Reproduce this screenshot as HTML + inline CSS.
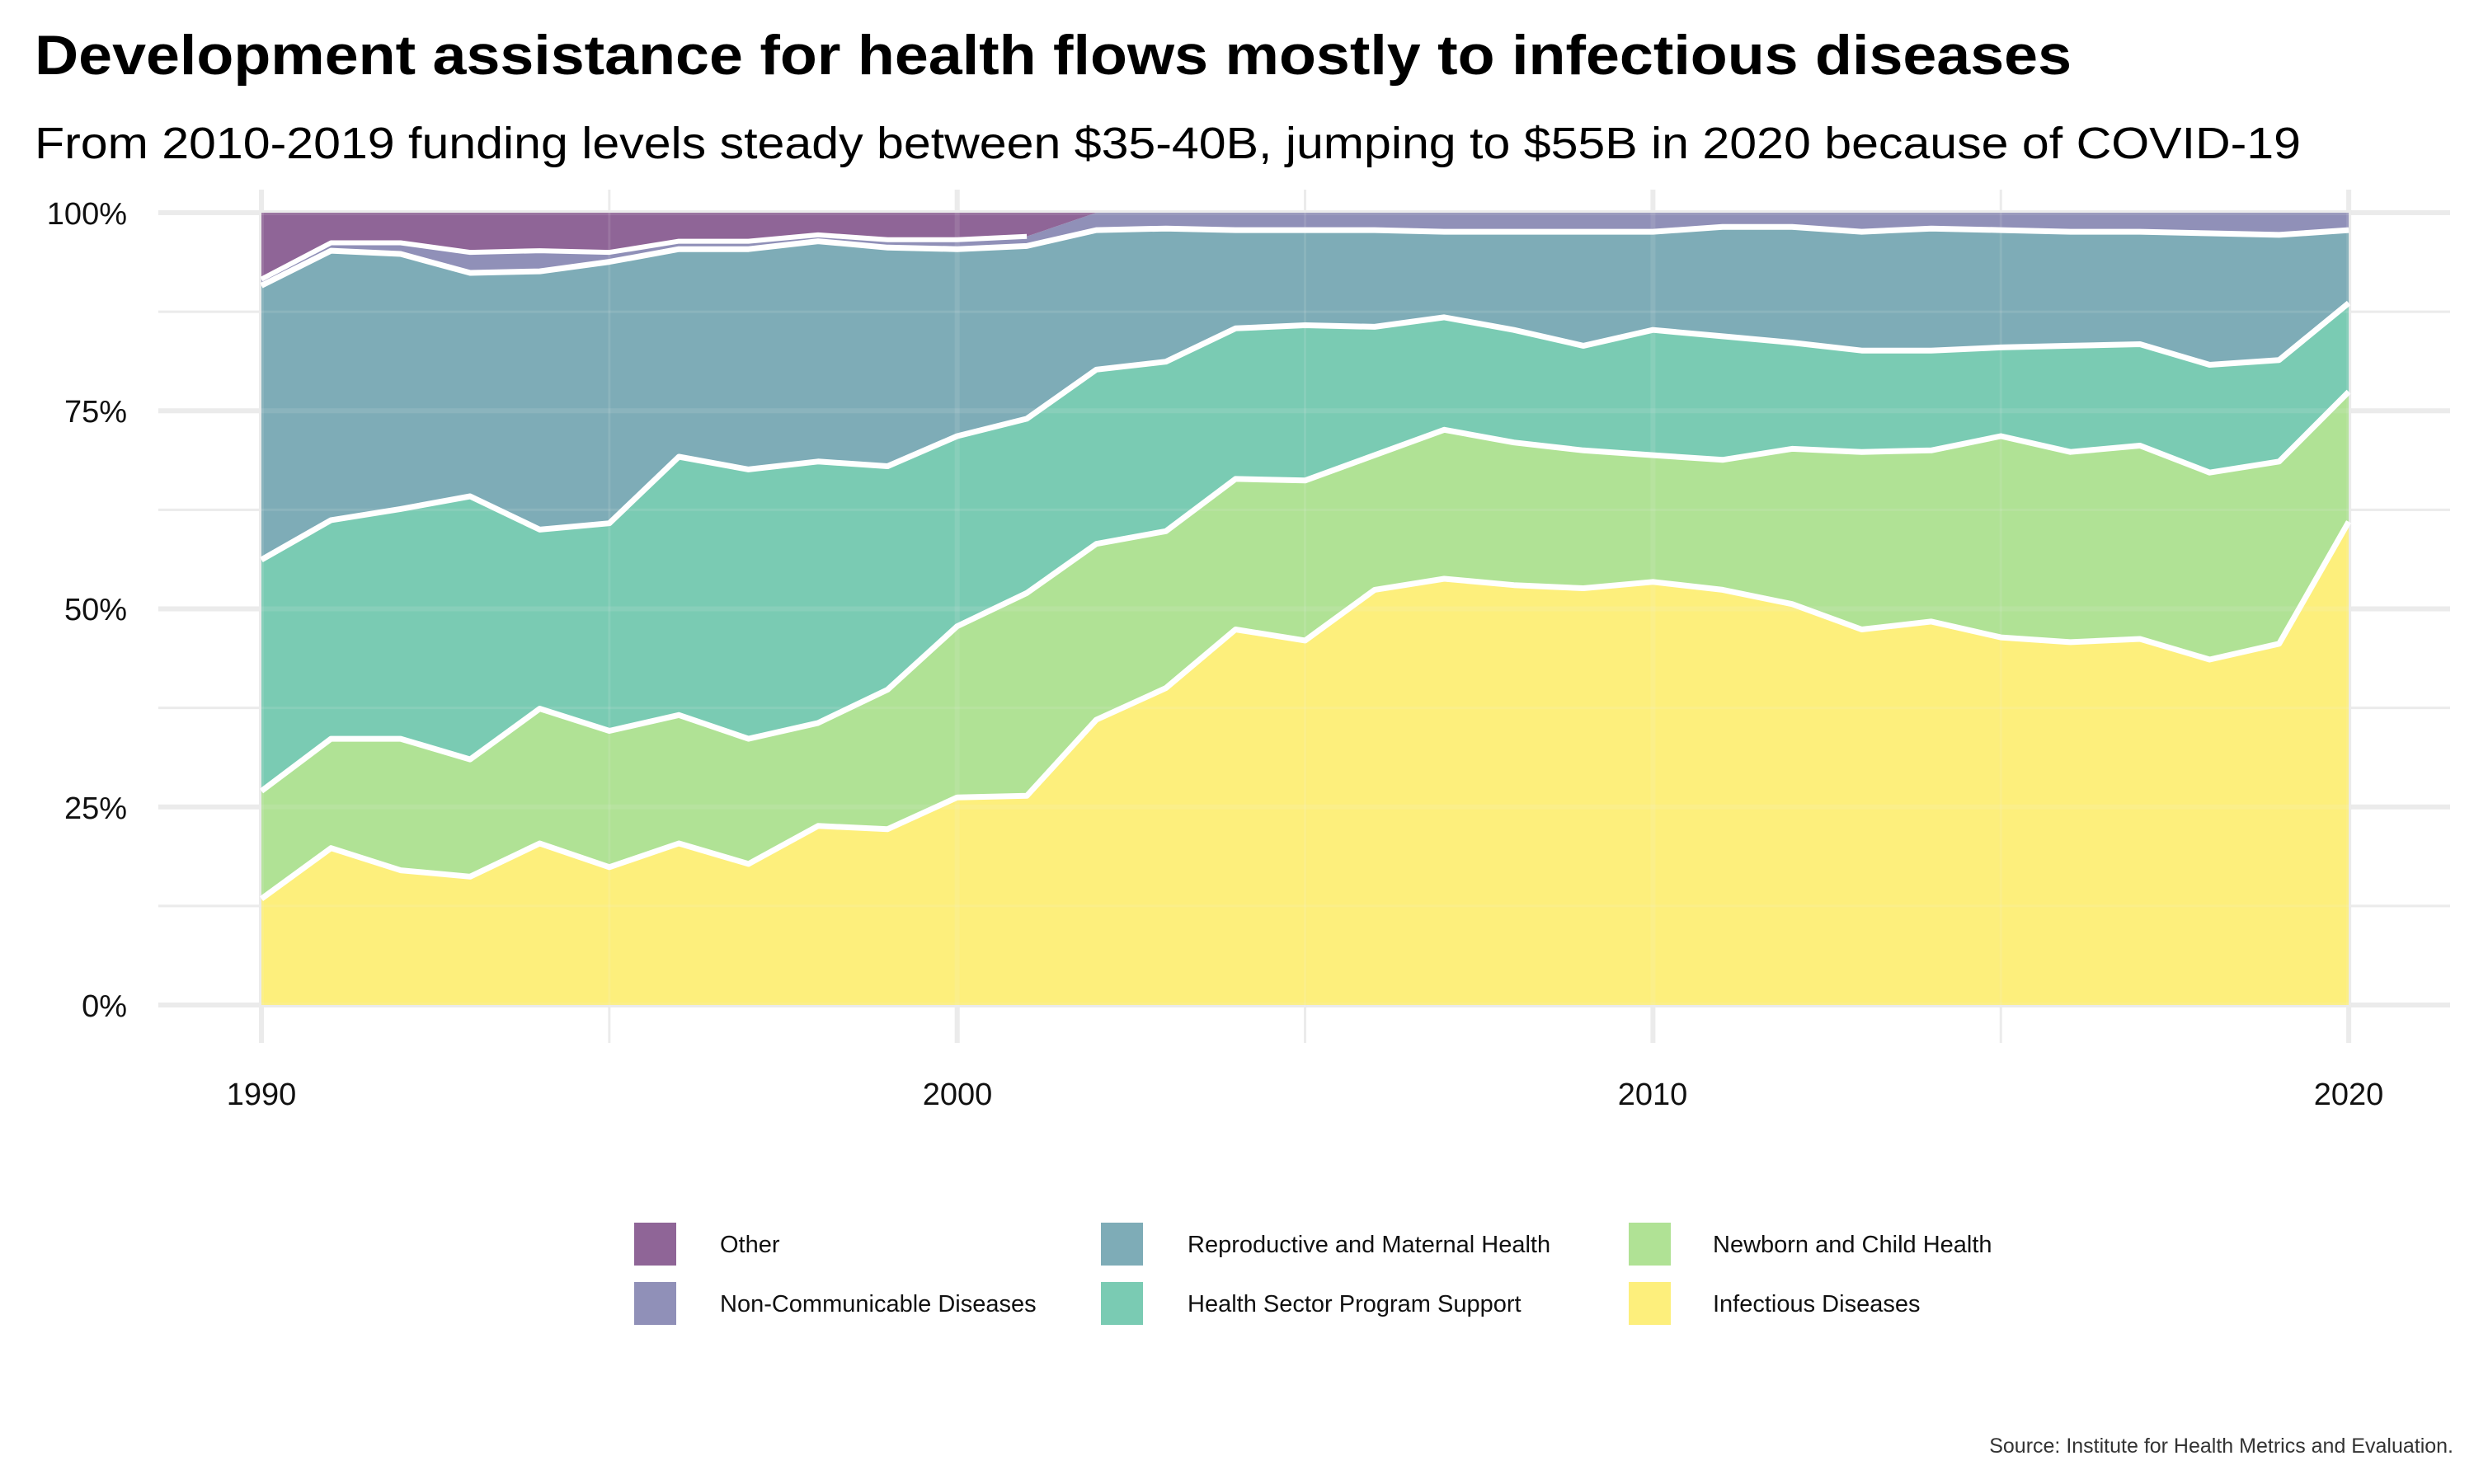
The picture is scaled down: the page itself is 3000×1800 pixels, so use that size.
<!DOCTYPE html>
<html><head><meta charset="utf-8"><style>
html,body{margin:0;padding:0;background:#fff;}
svg{display:block;font-family:"Liberation Sans",sans-serif;}
</style></head><body>
<svg id="c" width="3000" height="1800" viewBox="0 0 3000 1800" xmlns="http://www.w3.org/2000/svg">
<rect width="3000" height="1800" fill="#fff"/>
<text x="42" y="90" font-size="68" font-weight="bold" fill="#000" textLength="2470" lengthAdjust="spacingAndGlyphs">Development assistance for health flows mostly to infectious diseases</text>
<text x="42" y="192" font-size="54" fill="#000" textLength="2748" lengthAdjust="spacingAndGlyphs">From 2010-2019 funding levels steady between $35-40B, jumping to $55B in 2020 because of COVID-19</text>
<g id="grid"></g>
<g id="areas"></g>
<g id="grid2"></g>
<g id="lines"></g>
<g font-size="38" fill="#111" text-anchor="end">
<text x="154" y="272">100%</text>
<text x="154" y="512">75%</text>
<text x="154" y="752">50%</text>
<text x="154" y="993">25%</text>
<text x="154" y="1233">0%</text>
</g>
<g font-size="38" fill="#111" text-anchor="middle">
<text x="317" y="1340">1990</text>
<text x="1161" y="1340">2000</text>
<text x="2004" y="1340">2010</text>
<text x="2848" y="1340">2020</text>
</g>
<g font-size="29" fill="#111">
<rect x="769" y="1483" width="51" height="52" fill="#8f6597"/>
<text x="873" y="1519">Other</text>
<rect x="769" y="1555" width="51" height="52" fill="#9090b8"/>
<text x="873" y="1591">Non-Communicable Diseases</text>
<rect x="1335" y="1483" width="51" height="52" fill="#7eacb7"/>
<text x="1440" y="1519">Reproductive and Maternal Health</text>
<rect x="1335" y="1555" width="51" height="52" fill="#7acbb3"/>
<text x="1440" y="1591">Health Sector Program Support</text>
<rect x="1975" y="1483" width="51" height="52" fill="#b0e295"/>
<text x="2077" y="1519">Newborn and Child Health</text>
<rect x="1975" y="1555" width="51" height="52" fill="#fdef7c"/>
<text x="2077" y="1591">Infectious Diseases</text>
</g>
<text x="2975" y="1762" font-size="25" fill="#333" text-anchor="end">Source: Institute for Health Metrics and Evaluation.</text>
</svg>
<script>
(function(){
var NS="http://www.w3.org/2000/svg";
function el(t,a,p){var e=document.createElementNS(NS,t);for(var k in a)e.setAttribute(k,a[k]);document.getElementById(p).appendChild(e);}
var X=function(i){return 317+i*84.37;}, Y=function(v){return 1219-v*9.61;};
function grid(g,op){
[12.5,37.5,62.5,87.5].forEach(function(v){el("line",{x1:192,x2:2971,y1:Y(v),y2:Y(v),stroke:"#ebebeb","stroke-width":3,"stroke-opacity":op},g);});
[5,15,25].forEach(function(i){el("line",{x1:X(i),x2:X(i),y1:230,y2:1265,stroke:"#ebebeb","stroke-width":3,"stroke-opacity":op},g);});
[0,25,50,75,100].forEach(function(v){el("line",{x1:192,x2:2971,y1:Y(v),y2:Y(v),stroke:"#ebebeb","stroke-width":6,"stroke-opacity":op},g);});
[0,10,20,30].forEach(function(i){el("line",{x1:X(i),x2:X(i),y1:230,y2:1265,stroke:"#ebebeb","stroke-width":6,"stroke-opacity":op},g);});
}
grid("grid",1);
var inf=[13.4,19.8,17,16.2,20.4,17.4,20.4,17.8,22.6,22.2,26.2,26.4,36,40,47.4,46,52.4,53.8,53,52.6,53.4,52.4,50.6,47.4,48.4,46.4,45.8,46.2,43.6,45.6,61];
var nb=[27,33.6,33.6,31,37.4,34.6,36.6,33.6,35.6,39.8,47.8,52,58.2,59.8,66.4,66.2,69.4,72.6,71,70,69.4,68.8,70.2,69.8,70,71.8,69.8,70.6,67.2,68.6,77.4];
var hs=[56.2,61.2,62.6,64.2,60,60.8,69.2,67.6,68.6,68,71.8,74,80.2,81.2,85.4,85.8,85.6,86.8,85.2,83.2,85.2,84.4,83.6,82.6,82.6,83,83.2,83.4,80.8,81.4,88.6];
var rp=[90.8,95.2,94.8,92.4,92.6,93.8,95.4,95.4,96.4,95.6,95.4,95.8,97.8,98,97.8,97.8,97.8,97.6,97.6,97.6,97.6,98.2,98.2,97.6,98,97.8,97.6,97.6,97.4,97.2,97.8];
var ncd=[91.6,96.2,96.2,95,95.2,95,96.4,96.4,97.2,96.6,96.6,97,100,100,100,100,100,100,100,100,100,100,100,100,100,100,100,100,100,100,100];
var tp=ncd.map(function(){return 100;});
var zero=ncd.map(function(){return 0;});
var bounds=[zero,inf,nb,hs,rp,ncd,tp];
var cols=["#fdef7c","#b0e295","#7acbb3","#7eacb7","#9090b8","#8f6597"];
function pts(a){return a.map(function(v,i){return X(i).toFixed(1)+","+Y(v).toFixed(1);});}
for(var k=0;k<6;k++){
  var p=pts(bounds[k+1]).concat(pts(bounds[k]).reverse());
  el("polygon",{points:p.join(" "),fill:cols[k]},"areas");
}
grid("grid2",0.12);
[inf,nb,hs,rp].forEach(function(a){el("polyline",{points:pts(a).join(" "),fill:"none",stroke:"#fff","stroke-width":7,"stroke-linejoin":"round"},"lines");});
var n2=ncd.slice(0,12);
el("polyline",{points:pts(n2).join(" "),fill:"none",stroke:"#fff","stroke-width":6,"stroke-linejoin":"round"},"lines");
})();
</script>
</body></html>
